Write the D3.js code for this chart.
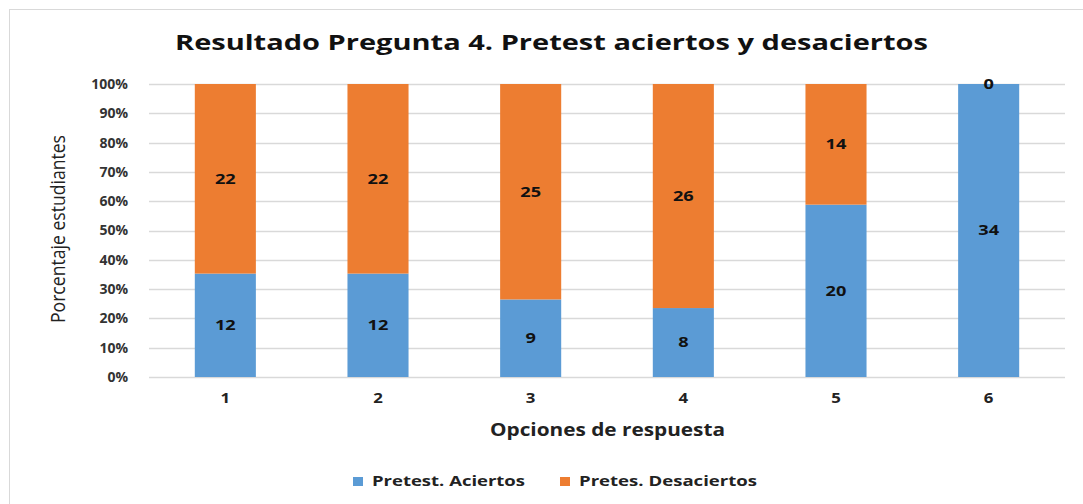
<!DOCTYPE html>
<html><head><meta charset="utf-8">
<script src="https://cdn.jsdelivr.net/npm/d3@7"></script>
<style>body{margin:0;background:#fff;} svg{display:block;font-family:"Open Sans",sans-serif;}</style>
</head><body>
<svg id="c" width="1083" height="504"></svg>
<script>
const categories = ["1","2","3","4","5","6"];
const aciertos = [12,12,9,8,20,34];
const desaciertos = [22,22,25,26,14,0];
const seriesNames = ["Pretest. Aciertos","Pretes. Desaciertos"];
const yTicks = [0,0.1,0.2,0.3,0.4,0.5,0.6,0.7,0.8,0.9,1];
const colors = ["#5B9BD5","#ED7D31"];

const svg = d3.select("#c");
svg.append("rect").attr("x",9.5).attr("y",9.5).attr("width",1090).attr("height",510)
  .attr("fill","#fff").attr("stroke","#d9d9d9");

const x = d3.scaleBand().domain(categories).range([149,1065]).paddingInner(0.6).paddingOuter(0.3);
const y = d3.scaleLinear().domain([0,1]).range([377,84]);

// gridlines
svg.append("g").selectAll("line").data(yTicks).join("line")
  .attr("x1",149).attr("x2",1065).attr("y1",d=>Math.round(y(d))+0.5).attr("y2",d=>Math.round(y(d))+0.5)
  .attr("stroke","#d9d9d9").attr("stroke-width",1.3);

// y axis labels
const yAxis = d3.axisLeft(y).tickValues(yTicks).tickFormat(d3.format(".0%")).tickSize(0).tickPadding(0);
const ya = svg.append("g").attr("transform","translate(128,0)").call(yAxis);
ya.select(".domain").remove();
ya.selectAll("text").attr("font-size",14).attr("font-weight","bold").attr("fill","#333").attr("font-family","Open Sans");

const rows = categories.map((c,i)=>({cat:c, a:aciertos[i], d:desaciertos[i]}));
const stack = d3.stack().keys(["a","d"]).offset(d3.stackOffsetExpand);
const layers = stack(rows);

const SX = 1.3;
const g = svg.append("g");
layers.forEach((layer,li)=>{
  g.append("g").selectAll("rect").data(layer).join("rect")
    .attr("x",d=>x(d.data.cat)).attr("width",x.bandwidth())
    .attr("y",d=>y(d[1])).attr("height",d=>y(d[0])-y(d[1]))
    .attr("fill",colors[li]);
});
layers.forEach((layer,li)=>{
  g.append("g").selectAll("text").data(layer).join("text")
    .attr("transform",d=>`translate(${x(d.data.cat)+x.bandwidth()/2},${(y(d[0])+y(d[1]))/2}) scale(${SX},1)`)
    .attr("dy","0.35em").attr("text-anchor","middle")
    .attr("font-size",14).attr("font-weight","bold").attr("fill","#111")
    .text(d=>d.data[layer.key]);
});

// x axis labels
const xAxis = d3.axisBottom(x).tickSize(0).tickPadding(0);
const xa = svg.append("g").attr("transform","translate(0,393)").call(xAxis);
xa.select(".domain").remove();
xa.selectAll("text").attr("font-size",14).attr("font-weight","bold").attr("fill","#222").attr("font-family","Open Sans")
  .attr("transform","scale(1.2,1)").attr("x",function(){return 0;});
xa.selectAll(".tick").each(function(){ d3.select(this).select("text").attr("transform","scale(1.2,1)"); });

// title
svg.append("text").attr("x",551.5).attr("y",50).attr("text-anchor","middle")
  .attr("font-size",21).attr("font-weight","bold").attr("fill","#111")
  .attr("textLength",753).attr("lengthAdjust","spacingAndGlyphs")
  .text("Resultado Pregunta 4. Pretest aciertos y desaciertos");

svg.append("text").attr("x",607.5).attr("y",436).attr("text-anchor","middle")
  .attr("font-size",17).attr("font-weight","bold").attr("fill","#222")
  .attr("textLength",235).attr("lengthAdjust","spacingAndGlyphs")
  .text("Opciones de respuesta");

svg.append("text").attr("transform","translate(65,229) scale(1.3,1) rotate(-90)").attr("text-anchor","middle")
  .attr("font-size",15).attr("font-weight","normal").attr("fill","#222")
  .attr("textLength",188).attr("lengthAdjust","spacingAndGlyphs")
  .text("Porcentaje estudiantes");

// legend
const legX = [353,560];
const legW = [153,178];
seriesNames.forEach((n,i)=>{
  const lg = svg.append("g").attr("transform",`translate(${legX[i]},486)`);
  lg.append("rect").attr("x",0).attr("y",-9).attr("width",10).attr("height",9).attr("fill",colors[i]);
  lg.append("text").attr("x",19).attr("y",0)
    .attr("font-size",14).attr("font-weight","bold").attr("fill","#222")
    .attr("textLength",legW[i]).attr("lengthAdjust","spacingAndGlyphs").text(n);
});
</script>
</body></html>
